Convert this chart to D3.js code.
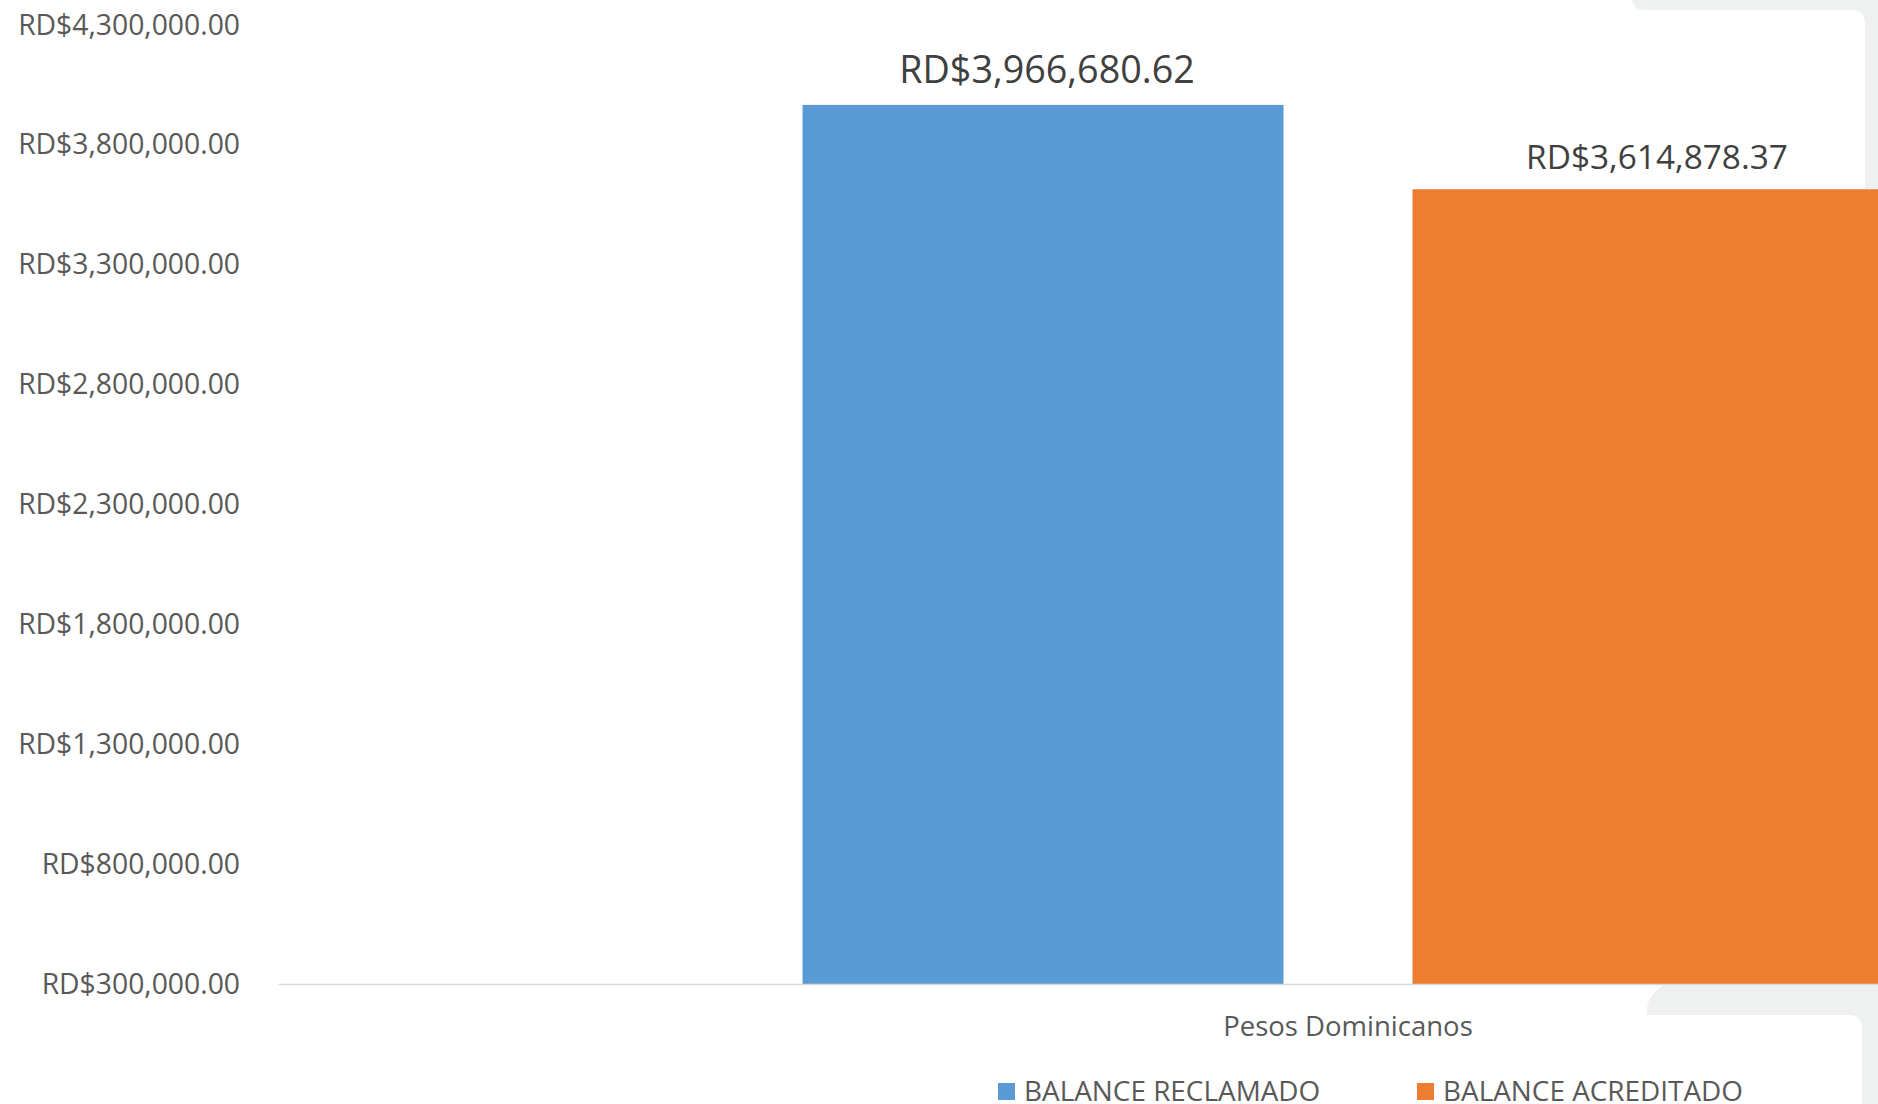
<!DOCTYPE html>
<html>
<head>
<meta charset="utf-8">
<script src="https://cdn.jsdelivr.net/npm/d3@7"></script>
<style>
  html, body { margin: 0; padding: 0; background: #fff; }
  svg { display: block; font-family: "Open Sans", sans-serif; }
</style>
</head>
<body>
<div class="chart-wrapper"></div>
<script>
const categories = ['Pesos Dominicanos'];
const seriesNames = ['BALANCE RECLAMADO', 'BALANCE ACREDITADO'];
const seriesValues = [3966680.62, 3614878.37];
const yTicks = [300000, 800000, 1300000, 1800000, 2300000, 2800000, 3300000, 3800000, 4300000];
const colors = ['#5b9bd5', '#ed7d31'];

const width = 1878;
const height = 1104;
const margin = {left: 278, top: 25, bottom: 120};
const plotRight = 2418; // plot area runs past the cropped edge

const fmt = v => 'RD$' + d3.format(',.2f')(v);

const svg = d3.select('.chart-wrapper')
  .append('svg')
  .attr('width', width)
  .attr('height', height);

// grey slide frame peeking in at the right
const bg = svg.append('g').attr('class', 'frame');
bg.append('rect').attr('x', 1840).attr('y', 0).attr('width', 40).attr('height', height).attr('fill', '#eff0f0');
bg.append('rect').attr('x', 1632).attr('y', -40).attr('width', 300).attr('height', 50).attr('rx', 11).attr('fill', '#eff0f0');
bg.append('rect').attr('x', 1600).attr('y', 10).attr('width', 265).attr('height', 980).attr('rx', 12).attr('fill', '#fff');
bg.append('rect').attr('x', 1647).attr('y', 983).attr('width', 300).attr('height', 200).attr('rx', 28).attr('fill', '#eff0f0');
bg.append('rect').attr('x', 1500).attr('y', 1015).attr('width', 362).attr('height', 200).attr('rx', 11).attr('fill', '#fff');

let y = d3.scaleLinear()
  .domain([300000, 4300000])
  .range([height - margin.bottom, margin.top]);

let x0 = d3.scaleBand()
  .domain(categories)
  .range([margin.left, plotRight])
  .paddingInner(0)
  .paddingOuter(0.4808);

let x1 = d3.scaleBand()
  .domain(seriesNames)
  .range([0, x0.bandwidth()])
  .paddingInner(0.2115)
  .paddingOuter(0);

const yAxis = svg.append('g')
  .attr('transform', `translate(${margin.left},0)`)
  .call(d3.axisLeft(y).tickValues(yTicks).tickFormat(fmt).tickSize(0).tickPadding(38));

yAxis.select('.domain').remove();
yAxis.selectAll('.tick text')
  .attr('fill', '#595959')
  .style('font-size', '28.3px')
  .style('font-family', '"Open Sans", sans-serif');

const bars = svg.append('g').attr('class', 'bars');

categories.forEach(cat => {
  bars.selectAll('rect')
    .data(seriesNames.map((s, i) => ({s, v: seriesValues[i], i})))
    .enter()
    .append('rect')
    .attr('x', d => x0(cat) + x1(d.s))
    .attr('y', d => y(d.v))
    .attr('width', x1.bandwidth())
    .attr('height', d => y(300000) - y(d.v))
    .attr('fill', d => colors[d.i]);

  // first label is set a bit larger, as in the original
  bars.selectAll('text')
    .data(seriesNames.map((s, i) => ({s, v: seriesValues[i], i})))
    .enter()
    .append('text')
    .attr('x', d => x0(cat) + x1(d.s) + x1.bandwidth() / 2)
    .attr('dx', 4)
    .attr('y', d => y(d.v) - (d.i === 0 ? 22 : 20))
    .attr('text-anchor', 'middle')
    .attr('fill', '#404040')
    .style('font-size', d => d.i === 0 ? '37.7px' : '33.4px')
    .text(d => fmt(d.v));
});

const xAxis = svg.append('g')
  .attr('transform', `translate(0,${y(300000)})`)
  .call(d3.axisBottom(x0).tickSize(0).tickSizeOuter(0).tickPadding(32));

xAxis.select('.domain')
  .attr('stroke', '#d9d9d9')
  .attr('stroke-width', 1.5);
xAxis.selectAll('.tick text')
  .attr('fill', '#595959')
  .style('font-size', '27.5px')
  .style('font-family', '"Open Sans", sans-serif');

// legend
const legendX = [998, 1417];
const legend = svg.append('g').attr('class', 'legend');
const items = legend.selectAll('g')
  .data(seriesNames)
  .enter()
  .append('g')
  .attr('transform', (d, i) => `translate(${legendX[i]},1083)`);

items.append('rect')
  .attr('width', 17)
  .attr('height', 17)
  .attr('fill', (d, i) => colors[i]);

items.append('text')
  .attr('x', 26)
  .attr('y', 18)
  .attr('fill', '#595959')
  .style('font-size', '27.9px')
  .text(d => d);
</script>
</body>
</html>
